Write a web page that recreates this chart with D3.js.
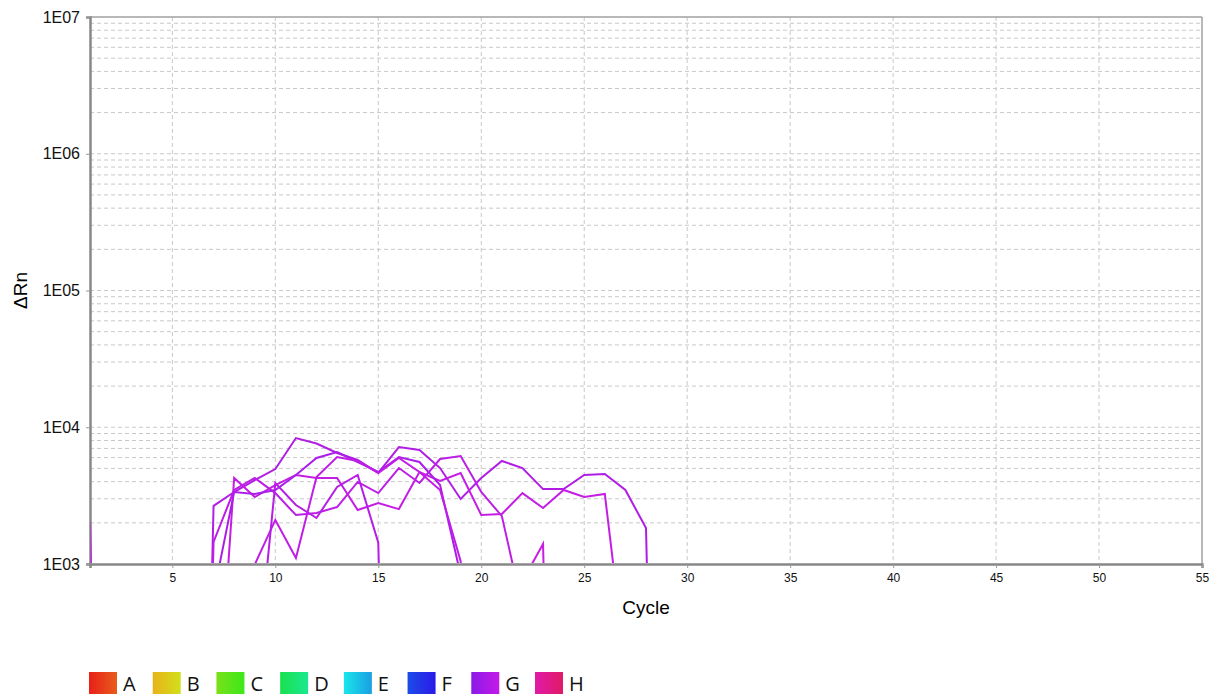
<!DOCTYPE html>
<html>
<head>
<meta charset="UTF-8">
<title>Amplification Plot</title>
<script src="https://d3js.org/d3.v7.min.js"></script>
<style>
  body { margin: 0; background: #fff; }
  svg { display: block; }
  .tick text { font-family: "Liberation Sans", Arial, sans-serif; fill: #111; }
</style>
</head>
<body>
<div id="chart"></div>
<script>
// cycles on the x axis
var cycles = [1,2,3,4,5,6,7,8,9,10,11,12,13,14,15,16,17,18,19,20,
              21,22,23,24,25,26,27,28,29,30,31,32,33,34,35,36,37,38,39,40];

// delta Rn per well of row G (values below 1E03 fall off the chart)
var g1 = [2030,0.001,0.001,0.001,0.001,0.001,0.001,0.001,0.001,0.001,0.001,0.001,0.001,0.001,0.001,0.001,0.001,0.001,0.001,0.001,
          0.001,0.001,0.001,0.001,0.001,0.001,0.001,0.001,0.001,0.001,0.001,0.001,0.001,0.001,0.001,0.001,0.001,0.001,0.001,0.001];
var g2 = [0.001,0.001,0.001,0.001,0.001,0.001,2660,3360,4110,4950,8340,7600,6480,5760,4630,7170,6820,5030,2990,4260,
          5670,5030,3530,3530,4480,4550,3480,1830,0.001,0.001,0.001,0.001,0.001,0.001,0.001,0.001,0.001,0.001,0.001,0.001];
var g3 = [0.001,0.001,0.001,0.001,0.001,0.001,1450,3480,4260,3300,2280,2360,2610,3980,3300,5030,3910,5860,6160,3360,
          2240,480,1,1,1,1,1,1,1,1,1,1,1,1,1,1,1,1,1,1];
var g4 = [1,1,1,1,1,1,25,4260,3090,3780,4480,4260,4260,2480,2790,2520,4710,4050,4630,2280,
          2320,3300,2570,3480,3090,3250,180,1,1,1,1,1,1,1,1,1,1,1,1,1];
var g5 = [1,1,1,1,1,1,600,3360,3250,3480,4480,5960,6590,5570,4710,6060,5570,3780,830,1,
          1,1,1,1,1,1,1,1,1,1,1,1,1,1,1,1,1,1,1,1];
var g6 = [1,1,1,1,1,1,1,0.001,990,2100,1105,4330,6060,5670,4630,5960,4710,3480,1050,0.001,
          0.001,0.001,0.001,0.001,0.001,0.001,0.001,0.001,0.001,0.001,0.001,0.001,0.001,0.001,0.001,0.001,0.001,0.001,0.001,0.001];
var g7 = [1,1,1,1,1,1,1,1,116,3910,2700,2170,3660,4480,1430,0.001,0.001,0.001,0.001,0.001,
          0.001,0.001,0.001,0.001,0.001,0.001,0.001,0.001,0.001,0.001,0.001,0.001,0.001,0.001,0.001,0.001,0.001,0.001,0.001,0.001];
var g8 = [1,1,1,1,1,1,1,1,1,1,1,1,1,1,1,1,1,1,1,1,
          1,750,1400,0.001,0.001,0.001,0.001,0.001,0.001,0.001,0.001,0.001,0.001,0.001,0.001,0.001,0.001,0.001,0.001,0.001];
var series = [g1, g2, g3, g4, g5, g6, g7, g8];
var seriesColors = ["#c01ee6", "#b01ee6", "#bc1ee6", "#c41ee4", "#aa1ee8", "#c01ee6", "#b61ee6", "#c81ee4"];

var xTicks = [5,10,15,20,25,30,35,40,45,50,55];
var yTicks = [1e3, 1e4, 1e5, 1e6, 1e7];
var yLabels = ["1E03", "1E04", "1E05", "1E06", "1E07"];

var rows = ["A","B","C","D","E","F","G","H"];
var rowColors = [["#e8201a","#e85c1c"],["#e8b21a","#d2e01a"],["#7ae01a","#3ce81a"],["#1ae04e","#1ae890"],
                 ["#1ae6ea","#1a9ee2"],["#1c4ce6","#2a1ae8"],["#8a1ae8","#c41ae8"],["#e01aa8","#e01a66"]];

var width = 1218, height = 697;
var margin = {top: 17, right: 16, bottom: 133, left: 90};

var svg = d3.select("#chart").append("svg")
  .attr("width", width)
  .attr("height", height);

var x = d3.scaleLinear().domain([1, 55]).range([margin.left, width - margin.right]);
var y = d3.scaleLog().domain([1e3, 1e7]).range([height - margin.bottom, margin.top]);

// minor grid on log axis
var gridVals = [];
[1e3, 1e4, 1e5, 1e6].forEach(function(d) {
  for (var k = 1; k <= 9; k++) gridVals.push(d * k);
});

svg.append("g").selectAll("line.hgrid")
  .data(gridVals.filter(function(d) { return d > 1e3; }))
  .enter().append("line")
  .attr("x1", x(1)).attr("x2", x(55))
  .attr("y1", function(d) { return y(d); })
  .attr("y2", function(d) { return y(d); })
  .attr("stroke", "#c8c8c8")
  .attr("stroke-dasharray", "4,3");

svg.append("g").selectAll("line.vgrid")
  .data(xTicks.slice(0, -1))
  .enter().append("line")
  .attr("x1", function(d) { return x(d); })
  .attr("x2", function(d) { return x(d); })
  .attr("y1", y(1e7)).attr("y2", y(1e3))
  .attr("stroke", "#c8c8c8")
  .attr("stroke-dasharray", "4,3");

// frame top/right
svg.append("line").attr("x1", x(1)).attr("x2", x(55)).attr("y1", y(1e7)).attr("y2", y(1e7))
  .attr("stroke", "#a0a0a0").attr("stroke-width", 1.5);
svg.append("line").attr("x1", x(55)).attr("x2", x(55)).attr("y1", y(1e7)).attr("y2", y(1e3))
  .attr("stroke", "#a0a0a0").attr("stroke-width", 1.5);

// axes
var xAxis = d3.axisBottom(x).tickValues(xTicks).tickSize(4).tickPadding(5);
var gx = svg.append("g")
  .attr("transform", "translate(0," + y(1e3) + ")")
  .call(xAxis);
gx.select(".domain").attr("stroke", "#888").attr("stroke-width", 2.5);
gx.selectAll(".tick line").attr("stroke", "#999");
gx.selectAll(".tick text").style("font-size", "12px");

var yAxis = d3.axisLeft(y).tickValues(yTicks)
  .tickFormat(function(d, i) { return yLabels[i]; })
  .tickSize(4).tickPadding(6);
var gy = svg.append("g")
  .attr("transform", "translate(" + x(1) + ",0)")
  .call(yAxis);
gy.select(".domain").attr("stroke", "#888").attr("stroke-width", 2.5);
gy.selectAll(".tick line").attr("stroke", "#999");
gy.selectAll(".tick text").style("font-size", "16px");

// lines (drawn over the axis line, clipped to the plot)
svg.append("clipPath").attr("id", "plotclip")
  .append("rect")
  .attr("x", x(1) + 0.5).attr("y", y(1e7))
  .attr("width", x(55) - x(1)).attr("height", y(1e3) - y(1e7) - 1);

var line = d3.line()
  .x(function(d, i) { return x(cycles[i]); })
  .y(function(d) { return y(d); });

svg.append("g").attr("clip-path", "url(#plotclip)")
  .selectAll("path")
  .data(series)
  .enter().append("path")
  .attr("d", line)
  .attr("fill", "none")
  .attr("stroke", function(d, i) { return seriesColors[i]; })
  .attr("stroke-width", 2)
  .attr("stroke-linejoin", "miter");

svg.append("text")
  .attr("x", (x(1) + x(55)) / 2)
  .attr("y", 614)
  .attr("text-anchor", "middle")
  .style("font-family", "Liberation Sans, Arial, sans-serif")
  .style("font-size", "19px")
  .text("Cycle");

svg.append("text")
  .attr("transform", "translate(27," + ((y(1e7) + y(1e3)) / 2) + ") rotate(-90)")
  .attr("text-anchor", "middle")
  .style("font-family", "Liberation Sans, Arial, sans-serif")
  .style("font-size", "19px")
  .text("\u0394Rn");

// legend
var defs = svg.append("defs");
rowColors.forEach(function(c, i) {
  var g = defs.append("linearGradient").attr("id", "lg" + i);
  g.append("stop").attr("offset", "0%").attr("stop-color", c[0]);
  g.append("stop").attr("offset", "100%").attr("stop-color", c[1]);
});

var legendX = d3.scalePoint().domain(rows).range([89, 535]);
var leg = svg.append("g").selectAll("g")
  .data(rows)
  .enter().append("g")
  .attr("transform", function(d) { return "translate(" + legendX(d) + ",672)"; });
leg.append("rect")
  .attr("width", 28).attr("height", 22)
  .attr("fill", function(d, i) { return "url(#lg" + i + ")"; });
leg.append("text")
  .attr("x", 34).attr("y", 19)
  .style("font-family", "Open Sans, sans-serif")
  .style("font-size", "20px")
  .attr("fill", "#111")
  .text(function(d) { return d; });
</script>
</body>
</html>
